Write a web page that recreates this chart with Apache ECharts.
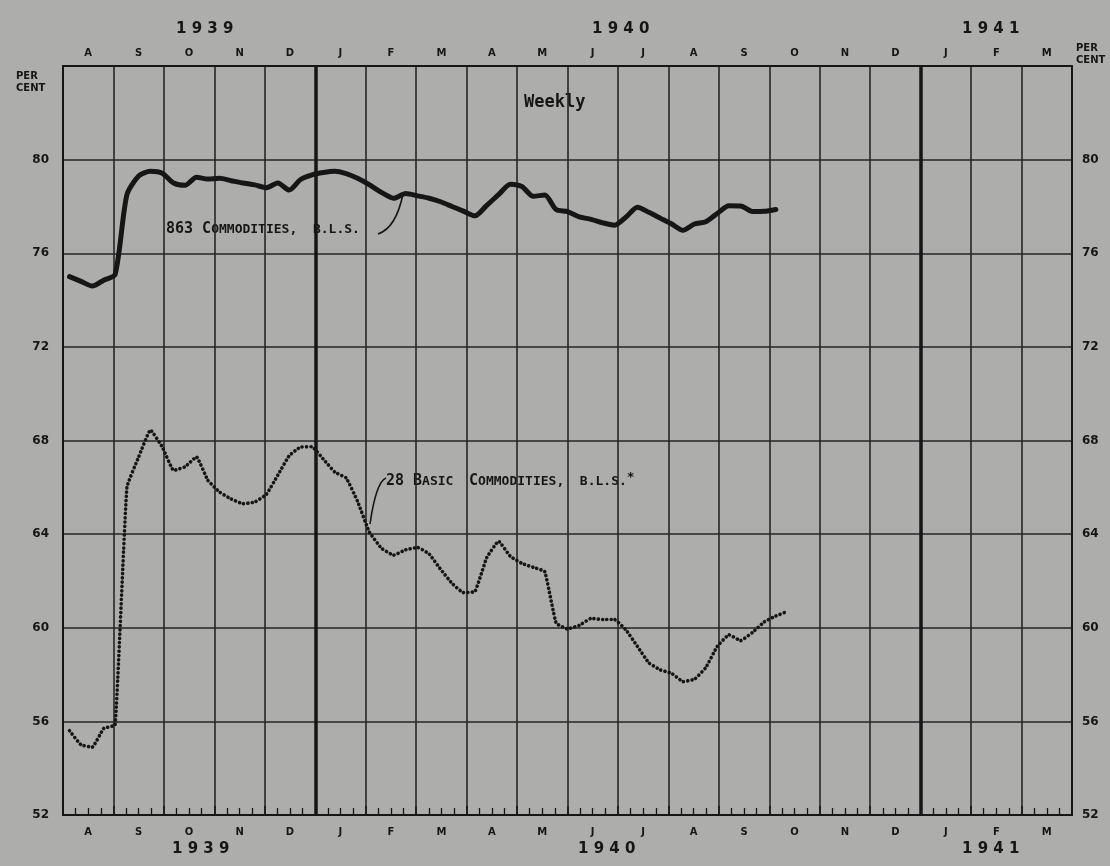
<!DOCTYPE html>
<html><head><meta charset="utf-8">
<script src="https://cdn.jsdelivr.net/npm/echarts@6/dist/echarts.min.js"></script>
<style>html,body{margin:0;padding:0;background:#adadab}#c{width:1110px;height:866px}</style>
</head><body><div id="c"></div>
<script>
// Month labels, Aug 1939 .. Mar 1941
const monthLabels = ['A','S','O','N','D','J','F','M','A','M','J','J','A','S','O','N','D','J','F','M'];
const yearLabels = ['1939','1940','1941'];
// Weekly data (week ending Saturdays, first week 1939-08-05)
const firstWeek = [1939, 7, 5];
const commodities863 = [75.0,74.8,74.6,74.85,75.1,78.5,79.3,79.5,79.42,79.0,78.9,79.25,79.17,79.2,79.1,79.0,78.92,
  78.8,79.0,78.7,79.15,79.35,79.45,79.5,79.4,79.2,78.93,78.6,78.35,78.55,78.45,78.35,78.2,78.0,77.8,
  77.6,78.05,78.5,78.95,78.85,78.43,78.49,77.87,77.78,77.55,77.45,77.3,77.2,77.55,77.97,77.75,77.5,
  77.25,76.98,77.25,77.35,77.7,78.03,78.02,77.78,77.79,77.87];
const basic28 = [55.6,55.0,54.9,55.7,55.85,66.0,67.3,68.45,67.73,66.72,66.88,67.3,66.3,65.8,65.5,65.3,65.37,
  65.7,66.52,67.35,67.72,67.73,67.2,66.65,66.4,65.4,64.1,63.4,63.1,63.33,63.43,63.15,62.5,61.9,61.5,
  61.55,63.0,63.7,63.05,62.75,62.58,62.4,60.2,59.95,60.1,60.4,60.35,60.35,59.9,59.2,58.5,58.2,
  58.05,57.7,57.8,58.3,59.2,59.7,59.45,59.8,60.25,60.5,60.7];
const yMin = 52, yMax = 84, yStep = 4;
const yearBoundaries = [5, 17];

function monthCoord(i){
  const d = new Date(Date.UTC(firstWeek[0], firstWeek[1], firstWeek[2] + 7*i));
  const y = d.getUTCFullYear(), mo = d.getUTCMonth(), day = d.getUTCDate();
  const dim = new Date(Date.UTC(y, mo+1, 0)).getUTCDate();
  return (y - firstWeek[0])*12 + mo - firstWeek[1] + (day-1)/dim;
}
const pair = arr => arr.map((v,i)=>[monthCoord(i), v]);

const INK = '#161616';
const chart = echarts.init(document.getElementById('c'));
const G = {left:63, right:38, top:66, bottom:51};
const monthLabelStyle = {color: INK, fontFamily:'DejaVu Sans', fontWeight:'bold', fontSize:10};
const yearFont = 'bold 15px "DejaVu Sans"';
const spaced = s => s.split('').join(' ');
const option = {
  backgroundColor:'#adadab',
  animation:false,
  grid:G,
  xAxis:[
    {type:'value', min:0, max:monthLabels.length, interval:1, position:'bottom',
     axisLabel:{show:false},
     axisLine:{show:true, lineStyle:{color:INK, width:2}},
     axisTick:{show:true, inside:true, length:9, lineStyle:{color:INK, width:1.5}},
     minorTick:{show:true, splitNumber:4, length:7, lineStyle:{color:INK, width:1.3}},
     splitLine:{show:true, lineStyle:{color:'#262626', width:1.6}}},
    {type:'category', data:monthLabels, position:'bottom', boundaryGap:true,
     axisLine:{show:false}, axisTick:{show:false},
     axisLabel:Object.assign({margin:12}, monthLabelStyle)},
    {type:'category', data:monthLabels, position:'top', boundaryGap:true,
     axisLine:{show:true, lineStyle:{color:INK, width:2}}, axisTick:{show:false},
     axisLabel:Object.assign({margin:8}, monthLabelStyle)}
  ],
  yAxis:[
    {type:'value', min:yMin, max:yMax, interval:yStep, position:'left',
     axisLine:{show:true, lineStyle:{color:INK, width:2}}, axisTick:{show:false},
     axisLabel:{color:INK, fontFamily:'DejaVu Sans', fontWeight:'bold', fontSize:12, margin:14,
       formatter:v=> v===yMax ? '' : String(v)},
     splitLine:{show:true, lineStyle:{color:'#262626', width:1.6}}},
    {type:'value', min:yMin, max:yMax, interval:yStep, position:'right',
     axisLine:{show:true, lineStyle:{color:INK, width:2}}, axisTick:{show:false},
     axisLabel:{color:INK, fontFamily:'DejaVu Sans', fontWeight:'bold', fontSize:12, margin:10,
       formatter:v=> v===yMax ? '' : String(v)},
     splitLine:{show:false}}
  ],
  series:[
    {name:'863 Commodities, B.L.S.', type:'line', xAxisIndex:0, yAxisIndex:0,
     data:pair(commodities863), showSymbol:false, smooth:0.25,
     lineStyle:{color:INK, width:5, cap:'round', join:'round'},
     markLine:{silent:true, symbol:'none', label:{show:false},
       lineStyle:{color:INK, width:3.5, type:'solid'},
       data:yearBoundaries.map(x=>({xAxis:x}))}},
    {name:'28 Basic Commodities, B.L.S.', type:'line', xAxisIndex:0, yAxisIndex:0,
     data:pair(basic28), showSymbol:false, smooth:0.1,
     lineStyle:{color:INK, width:3.6, type:[0.1,4.2], cap:'round', join:'round'}}
  ],
  graphic:[
    {type:'text', left:16, top:70, style:{text:'PER\nCENT', fill:INK, font:'bold 10px "DejaVu Sans"', lineHeight:12, align:'center'}},
    {type:'text', left:1076, top:42, style:{text:'PER\nCENT', fill:INK, font:'bold 10px "DejaVu Sans"', lineHeight:12}},
    {type:'text', left:176, top:22, style:{text:spaced(yearLabels[0]), fill:INK, font:yearFont}},
    {type:'text', left:592, top:22, style:{text:spaced(yearLabels[1]), fill:INK, font:yearFont}},
    {type:'text', left:962, top:22, style:{text:spaced(yearLabels[2]), fill:INK, font:yearFont}},
    {type:'text', left:172, top:842, style:{text:spaced(yearLabels[0]), fill:INK, font:yearFont}},
    {type:'text', left:578, top:842, style:{text:spaced(yearLabels[1]), fill:INK, font:yearFont}},
    {type:'text', left:962, top:842, style:{text:spaced(yearLabels[2]), fill:INK, font:yearFont}},
    {type:'text', left:524, top:94, style:{text:'Weekly', fill:INK, font:'bold 17px "DejaVu Sans Mono"'}},
    {type:'text', left:166, top:222, style:{
      text:'{a|863 C}{b|OMMODITIES,  B.L.S.}', rich:{
        a:{fill:INK, font:'bold 15px "DejaVu Sans Mono"'},
        b:{fill:INK, font:'bold 13px "DejaVu Sans Mono"'}}}},
    {type:'bezierCurve', shape:{x1:378, y1:234, x2:403, y2:194, cpx1:396, cpy1:228}, style:{stroke:INK, lineWidth:1.6, fill:null}},
    {type:'text', left:386, top:471, style:{
      text:'{a|28 B}{b|ASIC  }{a|C}{b|OMMODITIES,  B.L.S.}{c|*}', rich:{
        a:{fill:INK, font:'bold 15px "DejaVu Sans Mono"'},
        b:{fill:INK, font:'bold 13px "DejaVu Sans Mono"'},
        c:{fill:INK, font:'bold 13px "DejaVu Sans Mono"', verticalAlign:'top', padding:[0,0,8,0]}}}},
    {type:'bezierCurve', shape:{x1:386, y1:478, x2:370, y2:524, cpx1:376, cpy1:482}, style:{stroke:INK, lineWidth:1.6, fill:null}}
  ]
};
chart.setOption(option);
</script>
</body></html>
